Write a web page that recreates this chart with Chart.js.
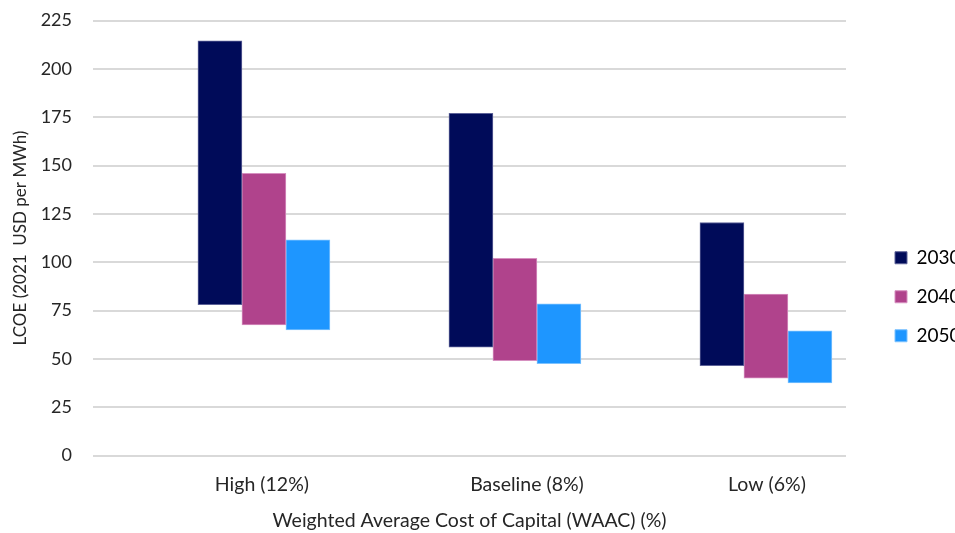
<!DOCTYPE html>
<html>
<head>
<meta charset="utf-8">
<script src="https://cdn.jsdelivr.net/npm/chart.js@4/dist/chart.umd.min.js"></script>
<style>
  html, body { margin: 0; padding: 0; background: #fff; overflow: hidden; }
  #wrap { position: relative; width: 960px; height: 533px; }
</style>
</head>
<body>
<div id="wrap"><canvas id="c"></canvas></div>
<script>
// ---- Data ----
const categories = ['High (12%)', 'Baseline (8%)', 'Low (6%)'];
const seriesNames = ['2030', '2040', '2050'];
const low2030  = [78, 56, 46.5];
const high2030 = [214.5, 177, 120.5];
const low2040  = [67.5, 49, 40];
const high2040 = [146, 102, 83.5];
const low2050  = [65, 47.5, 37.5];
const high2050 = [111.5, 78.5, 64.5];
const yTickValues = [0, 25, 50, 75, 100, 125, 150, 175, 200, 225];
const yTitle = 'LCOE (2021  USD per MWh)';
const xTitle = 'Weighted Average Cost of Capital (WAAC) (%)';

function floating(lo, hi) {
  return categories.map((c, i) => ({ x: i, y: [lo[i], hi[i]] }));
}

const FONT = 'Lato';
const textColor = '#262626';

const legendShift = {
  id: 'legendShift',
  afterLayout(chart) {
    const l = chart.legend;
    if (l) { l.top += 20; l.bottom += 20; }
  }
};

new Chart(document.getElementById('c'), {
  type: 'bar',
  data: {
    datasets: [
      { label: seriesNames[0], data: floating(low2030, high2030),
        backgroundColor: '#000B59', borderColor: '#5D6298', borderWidth: 1, borderSkipped: false },
      { label: seriesNames[1], data: floating(low2040, high2040),
        backgroundColor: '#B0438C', borderColor: '#D690C0', borderWidth: 1, borderSkipped: false },
      { label: seriesNames[2], data: floating(low2050, high2050),
        backgroundColor: '#1E96FF', borderColor: '#7CC2FF', borderWidth: 1, borderSkipped: false }
    ]
  },
  options: {
    responsive: true,
    maintainAspectRatio: false,
    animation: false,
    devicePixelRatio: 1,
    layout: { padding: { top: 20.5, left: 0, right: 0, bottom: 0 } },
    datasets: { bar: { barThickness: 44 } },
    plugins: {
      tooltip: { enabled: false },
      legend: {
        position: 'right',
        align: 'center',
        maxWidth: 85,
        labels: {
          boxWidth: 12, boxHeight: 12, padding: 20,
          color: '#000', font: { family: FONT, size: 19 }
        }
      }
    },
    scales: {
      x: {
        type: 'linear',
        offset: false,
        min: -0.681, max: 2.319,
        grid: { display: false, drawTicks: false, offset: false },
        border: { display: false },
        afterBuildTicks(scale) {
          const nudge = [-0.008, 0.048, 0.004];
          scale.ticks = categories.map((c, i) => ({ value: i + nudge[i] }));
        },
        afterFit(scale) { scale.height = 77.5; scale.paddingLeft = 0; scale.paddingRight = 0; },
        ticks: {
          padding: 18,
          color: textColor,
          font: { family: FONT, size: 19.5 },
          maxRotation: 0,
          callback: (v, i) => categories[i]
        },
        title: {
          display: true, text: xTitle, color: textColor,
          font: { family: FONT, size: 19.5 }, padding: { top: 0, bottom: 1 }
        }
      },
      y: {
        min: 0, max: 225,
        afterBuildTicks(scale) { scale.ticks = yTickValues.map(v => ({ value: v })); },
        afterFit(scale) { scale.width = 93; scale.paddingTop = 0; scale.paddingBottom = 0; },
        grid: { color: '#D9D9D9', lineWidth: 2, drawTicks: false },
        border: { display: false },
        ticks: { padding: 21, color: textColor, font: { family: FONT, size: 18 } },
        title: {
          display: true, text: yTitle, color: textColor,
          font: { family: FONT, size: 17 }, padding: { top: 10, bottom: 0 }
        }
      },
      gap: {
        type: 'linear', position: 'right', display: true,
        grid: { display: false, drawTicks: false },
        border: { display: false },
        ticks: { display: false },
        afterFit(scale) { scale.width = 29; scale.paddingTop = 0; scale.paddingBottom = 0; }
      }
    }
  },
  plugins: [legendShift]
});
</script>
</body>
</html>
